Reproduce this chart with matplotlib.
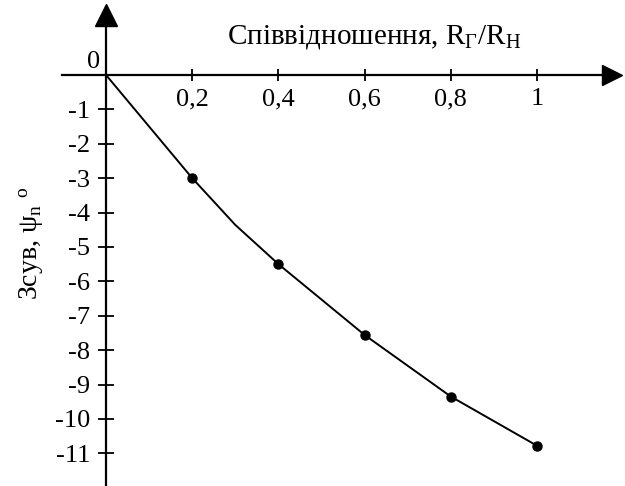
import matplotlib
matplotlib.use("Agg")
import matplotlib.pyplot as plt

# Дані
ratio = [0.2, 0.4, 0.6, 0.8, 1.0]
shift = [-3.0, -5.5, -7.56, -9.35, -10.78]

# Крива (починається з нуля, без маркера)
curve_x = [0.0, 0.2, 0.3, 0.4, 0.6, 0.8, 1.0]
curve_y = [0.0, -3.0, -4.36, -5.5, -7.56, -9.35, -10.78]

x_ticks = [0.2, 0.4, 0.6, 0.8, 1.0]
x_tick_labels = ["0,2", "0,4", "0,6", "0,8", "1"]
y_ticks = list(range(-1, -12, -1))
y_tick_labels = ["-%d" % (-v) for v in y_ticks]

plt.rcParams['font.family'] = ['Liberation Serif', 'DejaVu Serif']
plt.rcParams['mathtext.fontset'] = 'custom'
plt.rcParams['mathtext.rm'] = 'Liberation Serif'
plt.rcParams['mathtext.it'] = 'Liberation Serif:italic'

fig = plt.figure(figsize=(6.25, 4.86), dpi=100)
ax = fig.add_axes([0, 0, 1, 1])

# межі осей підібрані під положення осей на картинці
ax.set_xlim(-0.246, 1.204)
ax.set_ylim(-11.95, 2.18)

ax.plot(curve_x, curve_y, color='black', lw=1.4)
ax.plot(ratio, shift, 'o', color='black', ms=6.5)

for s in ['top', 'right']:
    ax.spines[s].set_visible(False)
ax.spines['left'].set_position(('data', 0))
ax.spines['bottom'].set_position(('data', 0))
ax.spines['left'].set_linewidth(1.6)
ax.spines['bottom'].set_linewidth(1.6)
ax.spines['left'].set_bounds(-11.95, 1.6)
ax.spines['bottom'].set_bounds(-0.102, 1.16)

ax.set_xticks(x_ticks)
ax.set_xticklabels(x_tick_labels)
ax.set_yticks(y_ticks)
ax.set_yticklabels(y_tick_labels)
ax.tick_params(axis='x', direction='inout', length=9, width=1.3, pad=5, labelsize=19)
ax.tick_params(axis='y', direction='inout', length=11, width=1.3, pad=6, labelsize=19)

# стрілки на осях
ax.plot(0, 1.75, '^', color='black', ms=16, clip_on=False)
ax.plot(1.173, 0, '>', color='black', ms=15, clip_on=False)

ax.text(-0.03, 0.38, "0", fontsize=19, ha='center', va='center')
ax.text(0.621, 1.10, "Співвідношення, R$_{\\mathrm{Г}}$/R$_{\\mathrm{Н}}$", fontsize=21,
        ha='center', va='center')
ax.text(-0.172, -4.9, "Зсув, ψ$_{\\mathrm{n}}$ $^{\\mathrm{o}}$", fontsize=20,
        rotation=90, ha='center', va='center')

fig.savefig("out.png", dpi=100)
